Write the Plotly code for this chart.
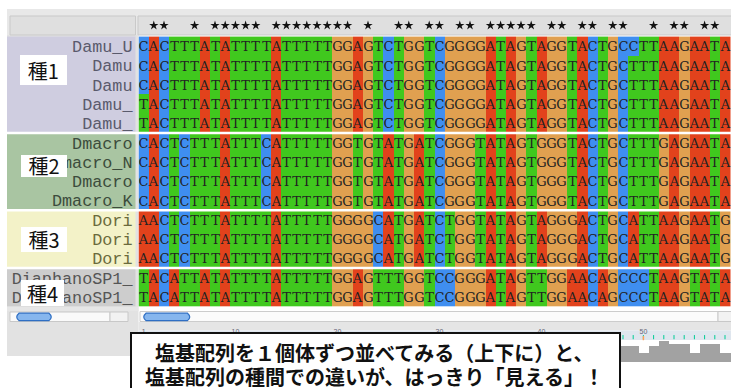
import plotly.graph_objects as go

W, H = 731, 388

# ---- alignment data ----
names = ["Damu_U", "Damu", "Damu", "Damu_", "Damu_",
         "Dmacro", "Dmacro_N", "Dmacro", "Dmacro_K",
         "Dori", "Dori", "Dori",
         "DiaphanoSP1_", "DiaphanoSP1_"]
groups = ["種1", "種2", "種3", "種4"]
group_sizes = [5, 4, 3, 2]
seqs = [
    "CACTTTATATTTTATTTTTGGAGTCTGGTCGGGGATAGTAGGTACTGCCTTAAGAATA",
    "CACTTTATATTTTATTTTTGGAGTCTGGTCGGGGATAGTAGGTACTGCTTTAAGAATA",
    "CACTTTATATTTTATTTTTGGAGTCTGGTCGGGGATAGTAGGTACTGCTTTAAGAATA",
    "TACTTTATATTTTATTTTTGGAGTCTGGTCGGGGATAGTAGGTACTGCTTTAAGAATA",
    "TACTTTATATTTTATTTTTGGAGTCTGGTCGGGGATAGTAGGTACTGCTTTAAGAATA",
    "CACTCTTTATTTCATTTTTGGTGTATGATCGGGTATAGTGGGTACTGCTTTGAGAATA",
    "CACTCTTTATTTCATTTTTGGTGTATGATCGGGTATAGTGGGTACTGCTTTGAGAATA",
    "CACTCTTTATTTCATTTTTGGTGTATGATCGGGTATAGTGGGTACTGCTTTGAGAATA",
    "CACTCTTTATTTCATTTTTGGTGTATGATCGGGTATAGTGGGTACTGCTTTGAGAATA",
    "AACTCTTTATTTTATTTTTGGGGCATGATCTGGTATAGTAGGGACTGCATTAAGAATG",
    "AACTCTTTATTTTATTTTTGGGGCATGATCTGGTATAGTAGGGACTGCATTAAGAATG",
    "AACTCTTTATTTTATTTTTGGGGCATGATCTGGTATAGTAGGGACTGCATTAAGAATG",
    "TACATTATATTTTATTTTTGGAGTTTGGTCCGGGATAGTTGGAACAGCCCTAAGTATA",
    "TACATTATATTTTATTTTTGGAGTTTGGTCCGGGATAGTTGGAACAGCCCTAAGTATA",
]
ruler_labels = ["1", "10", "20", "30", "40", "50"]
ruler_pos = [1, 10, 20, 30, 40, 50]
# conservation histogram heights for the columns right of the caption box
hist_cols = [47, 48, 49, 50, 51, 52, 53, 54, 55, 56, 57]
hist_vals = [0.75, 0.75, 0.4, 0.75, 0.95, 0.8, 0.8, 0.4, 0.8, 0.8, 0.4]

caption = ["塩基配列を１個体ずつ並べてみる（上下に）と、",
           "塩基配列の種間での違いが、はっきり「見える」！"]

base_code = {"A": 0, "C": 1, "G": 2, "T": 3}
base_colors = ["#e2421c", "#3f8ef0", "#e0a050", "#40c81e"]
group_bg = ["#cfcde0", "#a9c5a2", "#f3f2c8", "#cdcdcd"]
group_fg = ["#5a5a6c", "#3c4c3c", "#6a6a3c", "#555555"]

n_rows = len(seqs)
n_cols = len(seqs[0])

# ---- pixel helpers for chrome placement ----
def xp(px):
    return px / W

def yp(py):
    return 1 - py / H

COL_X0, COL_W = 138.5, 10.2
ROW_Y0, ROW_Y1 = 36.6, 306.6
ROW_H = (ROW_Y1 - ROW_Y0) / n_rows
HEAD_TOP = 16

x_range = [-0.5, -0.5 + (W - COL_X0) / COL_W]
y_range = [n_rows - 0.5, -0.5 - (ROW_Y0 - HEAD_TOP) / ROW_H]

# row -> group index
row_group = []
for g, n in enumerate(group_sizes):
    row_group += [g] * n

z = [[base_code[ch] for ch in s] for s in seqs]
txt = [list(s) for s in seqs]
step_scale = []
for i, c in enumerate(base_colors):
    step_scale.append([i / 4, c])
    step_scale.append([(i + 1) / 4, c])

# conserved columns get a star
stars = [c for c in range(n_cols) if len({s[c] for s in seqs}) == 1]

fig = go.Figure()

fig.add_trace(go.Heatmap(
    z=z, x=list(range(n_cols)), y=list(range(n_rows)),
    text=txt, texttemplate="%{text}",
    textfont=dict(family="DejaVu Serif", size=13, color="#222222"),
    colorscale=step_scale, zmin=-0.5, zmax=3.5, showscale=False,
    hoverinfo="skip", xgap=0, ygap=0,
))

fig.add_trace(go.Scatter(
    x=stars, y=[-0.5 - (ROW_Y0 - 25.5) / ROW_H] * len(stars),
    mode="markers", marker=dict(symbol="star", size=7, color="#111111"),
    cliponaxis=False, hoverinfo="skip", showlegend=False,
))

# ruler ticks and labels
fig.add_trace(go.Scatter(
    x=list(range(n_cols)), y=[0.3] * n_cols, xaxis="x", yaxis="y3",
    mode="markers", marker=dict(symbol="line-ns-open", size=3,
                                line=dict(color="#8a9aaa", width=1)),
    cliponaxis=False, hoverinfo="skip", showlegend=False,
))
fig.add_trace(go.Scatter(
    x=[p - 1 for p in ruler_pos], y=[0.8] * len(ruler_pos), xaxis="x", yaxis="y3",
    mode="text", text=ruler_labels,
    textfont=dict(family="Liberation Sans", size=7, color="#667"),
    cliponaxis=False, hoverinfo="skip", showlegend=False,
))
fig.add_trace(go.Scatter(
    x=[49], y=[0.2], xaxis="x", yaxis="y3", mode="markers",
    marker=dict(symbol="line-ns-open", size=3, line=dict(color="#e03020", width=1.5)),
    cliponaxis=False, hoverinfo="skip", showlegend=False,
))

# conservation histogram
fig.add_trace(go.Bar(
    x=hist_cols, y=hist_vals, xaxis="x", yaxis="y2", width=1.0,
    marker=dict(color="#a2a2a2", line=dict(width=0)),
    hoverinfo="skip", showlegend=False,
))

# ---- name column (y tick labels) ----
ticktext = ['<span style="color:%s">%s</span>' % (group_fg[row_group[i]], n)
            for i, n in enumerate(names)]

shapes = []

def rect(x0, y0, x1, y1, fill, line=None, lw=0, layer="below", xref="paper", yref="paper"):
    d = dict(type="rect", xref=xref, yref=yref, x0=x0, y0=y0, x1=x1, y1=y1,
             fillcolor=fill, layer=layer, line=dict(width=lw, color=line or fill))
    shapes.append(d)

# left panel and header chrome
rect(xp(7), yp(9), xp(W), yp(35), "#e8e8e8")
rect(xp(7), yp(35), xp(138.5), yp(356), "#e2e2e2")
rect(xp(10), yp(16), xp(135.5), yp(35), "#dfdfdf", "#c9c9c9", 1)
rect(xp(138), yp(16), xp(W + 2), yp(35), "#dfdfdf", "#c9c9c9", 1)

# group tints behind the names
start = 0
for g, n in enumerate(group_sizes):
    shapes.append(dict(type="rect", xref="paper", yref="y",
                       x0=xp(7), x1=xp(135.5), y0=start - 0.5, y1=start + n - 0.5,
                       fillcolor=group_bg[g], layer="below", line=dict(width=0)))
    start += n

# white separators between groups
start = 0
for n in group_sizes[:-1]:
    start += n
    shapes.append(dict(type="line", xref="paper", yref="y",
                       x0=xp(7), x1=1, y0=start - 0.5, y1=start - 0.5,
                       line=dict(color="white", width=2.5), layer="above"))

# scrollbars
rect(xp(7), yp(307), xp(138.5), yp(311), "#e6e6e6", layer="above")
rect(xp(10), yp(312), xp(110), yp(321.5), "#fafafa", "#c8c8c8", 1, layer="above")
rect(xp(110), yp(312), xp(128), yp(321.5), "#f2f2f2", "#c8c8c8", 1, layer="above")
rect(xp(140), yp(311.5), xp(718), yp(321.5), "#fbfbfb", "#cccccc", 1, layer="above")
rect(xp(718), yp(311.5), xp(W + 2), yp(321.5), "#f2f2f2", "#c8c8c8", 1, layer="above")
for x0, x1 in [(15, 53), (142, 191.5)]:
    shapes.append(dict(type="path", xref="paper", yref="paper", layer="above",
                       path="M %f,%f L %f,%f Q %f,%f %f,%f L %f,%f Q %f,%f %f,%f Z" % (
                           xp(x0 + 4), yp(313.2), xp(x1 - 4), yp(313.2),
                           xp(x1 + 0.5), yp(317), xp(x1 - 4), yp(320.6),
                           xp(x0 + 4), yp(320.6), xp(x0 - 0.5), yp(317), xp(x0 + 4), yp(313.2)),
                       fillcolor="#86b6ee", line=dict(color="#2f6fc4", width=1.2)))

# ruler strip
rect(xp(138.5), yp(322), xp(W + 2), yp(330.5), "#e5e5e5", layer="below")
rect(xp(138.5), yp(330.5), xp(W + 2), yp(340), "#dfe6ee", layer="below")

# caption box
rect(xp(131), yp(333), xp(620), yp(H + 6), "white", "#111111", 2, layer="above")

annotations = []
# group labels in white boxes
label_boxes = [(20, 55, 66.7, 85), (20.7, 155, 66.7, 176.7),
               (20.7, 226.7, 66.7, 251.7), (20.7, 280, 64, 306)]
for lab, (x0, y0, x1, y1) in zip(groups, label_boxes):
    annotations.append(dict(
        text=lab, xref="paper", yref="paper",
        x=xp((x0 + x1) / 2), y=yp((y0 + y1) / 2), xanchor="center", yanchor="middle",
        width=x1 - x0, height=y1 - y0, bgcolor="white", borderpad=0, borderwidth=0,
        showarrow=False, align="center", valign="middle",
        font=dict(family="Noto Sans CJK JP", size=20, color="#111111"),
    ))

for line, cy in zip(caption, [352, 376]):
    annotations.append(dict(
        text="<b>%s</b>" % line, xref="paper", yref="paper",
        x=xp(374), y=yp(cy), xanchor="center", yanchor="middle",
        showarrow=False,
        font=dict(family="Noto Sans CJK JP", size=20, color="#111111"),
    ))

fig.update_layout(
    width=W, height=H,
    margin=dict(l=0, r=0, t=0, b=0, pad=0),
    paper_bgcolor="white", plot_bgcolor="rgba(0,0,0,0)",
    showlegend=False,
    xaxis=dict(domain=[xp(COL_X0), 1], range=x_range, showticklabels=False,
               showgrid=False, zeroline=False, ticks="", fixedrange=True),
    yaxis=dict(domain=[yp(ROW_Y1), yp(HEAD_TOP)], range=y_range,
               tickvals=list(range(n_rows)), ticktext=ticktext, ticks="",
               ticklabelstandoff=5,
               tickfont=dict(family="Liberation Mono", size=16.8, color="#555"),
               showgrid=False, zeroline=False, fixedrange=True),
    yaxis2=dict(domain=[yp(362), yp(340)], range=[0, 1], visible=False,
                anchor="x", fixedrange=True),
    yaxis3=dict(domain=[yp(340), yp(330.5)], range=[0, 1], visible=False,
                anchor="x", fixedrange=True),
    shapes=shapes, annotations=annotations,
    bargap=0,
)

fig.write_html("out.html")
